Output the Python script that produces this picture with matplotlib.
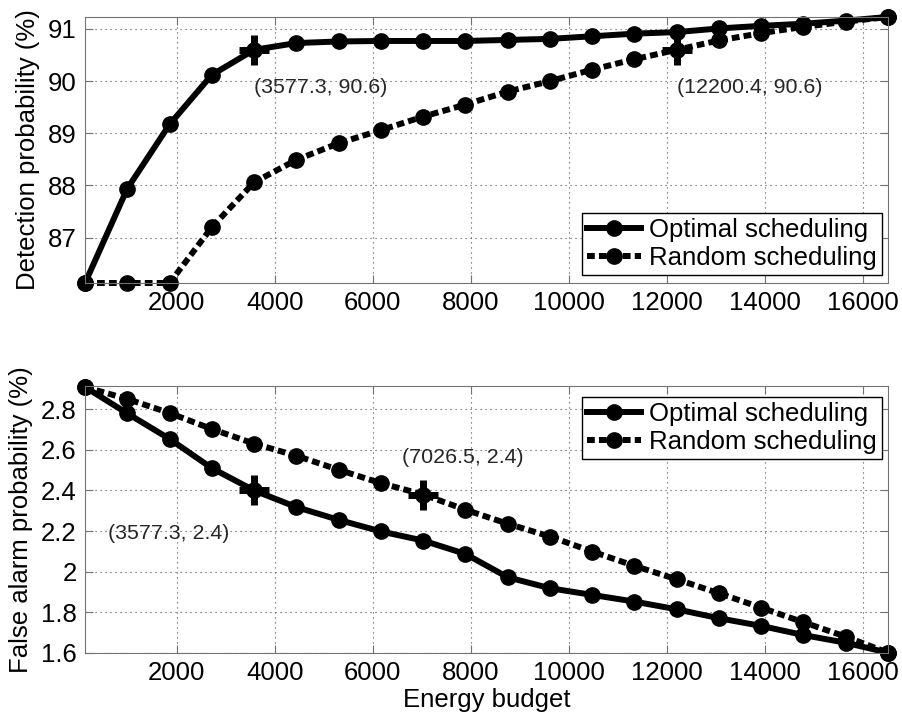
import matplotlib
matplotlib.use('Agg')
import matplotlib.pyplot as plt

plt.rcParams['font.family'] = ['Liberation Sans', 'DejaVu Sans']

# Energy budget values (x axis)
budget = [128.1, 990.4, 1852.7, 2715.0, 3577.3, 4439.6, 5301.9, 6164.2, 7026.5, 7888.8,
          8751.1, 9613.4, 10475.7, 11338.0, 12200.4, 13062.6, 13924.9, 14787.2, 15649.5, 16511.8]

# Detection probability (%)
det_opt = [86.13, 87.94, 89.17, 90.12, 90.60, 90.73, 90.76, 90.77, 90.77, 90.77,
           90.79, 90.81, 90.86, 90.91, 90.94, 91.01, 91.06, 91.10, 91.16, 91.23]
det_rand = [86.13, 86.13, 86.13, 87.20, 88.06, 88.49, 88.81, 89.06, 89.32, 89.55,
            89.80, 90.00, 90.22, 90.42, 90.60, 90.78, 90.92, 91.04, 91.14, 91.23]

# False alarm probability (%)
fa_opt = [2.91, 2.78, 2.654, 2.51, 2.40, 2.318, 2.255, 2.198, 2.153, 2.087,
          1.972, 1.918, 1.885, 1.852, 1.814, 1.770, 1.732, 1.687, 1.649, 1.60]
fa_rand = [2.91, 2.851, 2.782, 2.703, 2.631, 2.571, 2.502, 2.436, 2.38, 2.305,
           2.236, 2.173, 2.099, 2.028, 1.962, 1.893, 1.822, 1.750, 1.679, 1.60]

labels = ['Optimal scheduling', 'Random scheduling']
fs = 18.5
lw = 4.3
ms = 11
dots = (0, (1.3, 0.7))

fig = plt.figure(figsize=(9.02, 7.19), dpi=100)
ax1 = fig.add_axes([0.0943, 0.6064, 0.8902, 0.3700])
ax2 = fig.add_axes([0.0943, 0.0922, 0.8902, 0.3709])


def style(ax):
    ax.grid(True, linestyle=(0, (1, 3.5)), color='0.3', linewidth=0.8)
    ax.tick_params(direction='in', top=True, right=True, length=6, labelsize=fs,
                   color='0.45', pad=6)
    for s in ax.spines.values():
        s.set_color('0.45')
    ax.set_xlim(budget[0], budget[-1])
    ax.set_xticks([2000, 4000, 6000, 8000, 10000, 12000, 14000, 16000])


# Top plot
ax1.plot(budget, det_opt, '-', color='black', lw=lw, marker='o', ms=ms, label=labels[0])
ax1.plot(budget, det_rand, linestyle=dots, color='black', lw=lw, marker='o', ms=ms,
         label=labels[1])
ax1.plot([budget[4], budget[14]], [det_opt[4], det_rand[14]], '+', color='black',
         ms=22, mew=5)
ax1.text(3577.3, 89.87, '(3577.3, 90.6)', fontsize=15.4, color='0.15', va='center')
ax1.text(12216, 89.88, '(12200.4, 90.6)', fontsize=15.4, color='0.15', va='center')
ax1.set_ylim(min(det_opt), max(det_opt))
ax1.set_yticks([87, 88, 89, 90, 91])
ax1.set_ylabel('Detection probability (%)', fontsize=fs, labelpad=6)
style(ax1)
ax1.legend(loc='lower right', bbox_to_anchor=(0.9925, 0.03), borderaxespad=0,
           fontsize=fs, fancybox=False, edgecolor='black', framealpha=1,
           handlelength=2.1, handletextpad=0.3, labelspacing=0.15, borderpad=0.2,
           numpoints=1).get_frame().set_linewidth(1.0)

# Bottom plot
ax2.plot(budget, fa_opt, '-', color='black', lw=lw, marker='o', ms=ms, label=labels[0])
ax2.plot(budget, fa_rand, linestyle=dots, color='black', lw=lw, marker='o', ms=ms,
         label=labels[1])
ax2.plot([budget[4], budget[8]], [fa_opt[4], fa_rand[8]], '+', color='black',
         ms=22, mew=5)
ax2.text(593, 2.19, '(3577.3, 2.4)', fontsize=15.4, color='0.15', va='center')
ax2.text(6588, 2.565, '(7026.5, 2.4)', fontsize=15.4, color='0.15', va='center')
ax2.set_ylim(1.6, 2.915)
ax2.set_yticks([1.6, 1.8, 2.0, 2.2, 2.4, 2.6, 2.8])
ax2.set_yticklabels(['1.6', '1.8', '2', '2.2', '2.4', '2.6', '2.8'])
ax2.set_ylabel('False alarm probability (%)', fontsize=fs, labelpad=6)
ax2.set_xlabel('Energy budget', fontsize=fs, labelpad=2)
style(ax2)
ax2.legend(loc='upper right', bbox_to_anchor=(0.9925, 0.96), borderaxespad=0,
           fontsize=fs, fancybox=False, edgecolor='black', framealpha=1,
           handlelength=2.1, handletextpad=0.3, labelspacing=0.15, borderpad=0.2,
           numpoints=1).get_frame().set_linewidth(1.0)

for ax in (ax1, ax2):
    for l in ax.lines:
        l.set_clip_on(False)

fig.savefig('out.png', dpi=100)
